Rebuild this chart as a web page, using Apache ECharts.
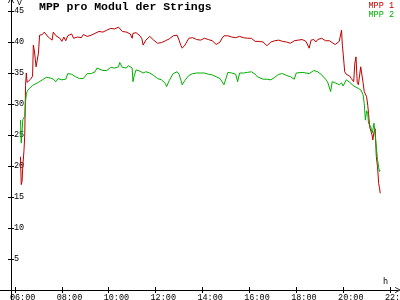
<!DOCTYPE html>
<html>
<head>
<meta charset="utf-8">
<script src="https://cdn.jsdelivr.net/npm/echarts@6/dist/echarts.min.js"></script>
<style>html,body{margin:0;padding:0;background:#fff}#c{width:400px;height:300px}</style>
</head>
<body>
<div id="c"></div>
<script>
const times = ["06:14","06:16","06:18","06:20","06:23","06:25","06:27","06:29","06:31","06:35","06:40","06:45","06:47","06:50","06:54","06:57","07:00","07:03","07:10","07:15","07:20","07:25","07:30","07:35","07:38","07:45","07:50","07:55","08:00","08:05","08:10","08:15","08:20","08:25","08:30","08:35","08:40","08:45","08:50","08:55","09:00","09:05","09:15","09:25","09:30","09:35","09:45","09:55","10:05","10:10","10:15","10:25","10:28","10:35","10:40","10:45","10:50","10:55","11:00","11:02","11:05","11:10","11:15","11:20","11:25","11:28","11:35","11:45","11:55","12:05","12:15","12:20","12:25","12:28","12:35","12:45","12:55","13:00","13:05","13:08","13:15","13:25","13:35","13:45","13:55","14:05","14:15","14:25","14:35","14:40","14:45","14:50","14:55","15:00","15:05","15:15","15:25","15:30","15:35","15:45","15:55","16:05","16:15","16:20","16:25","16:35","16:45","16:55","17:05","17:15","17:25","17:35","17:45","17:55","18:00","18:05","18:15","18:25","18:30","18:33","18:38","18:45","18:50","18:55","19:05","19:15","19:20","19:25","19:28","19:32","19:40","19:45","19:50","19:54","19:56","19:58","20:00","20:04","20:08","20:12","20:17","20:21","20:25","20:27","20:30","20:33","20:36","20:39","20:42","20:45","20:48","20:51","20:54","20:57","21:00","21:03","21:05","21:08","21:11","21:14","21:16","21:19","21:22","21:25","21:28","21:31","21:33","21:35"];

const mpp1 = [21.5,17.0,17.5,19.9,22.5,25.0,33.0,35.0,33.5,33.8,34.0,34.5,39.5,38.4,36.0,35.8,38.2,41.1,41.2,41.6,41.6,40.8,41.0,40.3,41.6,41.0,41.1,40.6,40.1,40.8,40.2,41.0,41.1,41.3,40.6,40.3,40.8,40.9,40.7,41.2,41.0,40.9,41.1,41.4,41.6,41.7,41.6,41.9,42.2,42.0,42.1,42.4,42.3,41.7,41.6,41.6,41.4,41.3,40.6,41.4,41.5,41.5,41.4,41.0,40.5,39.5,40.3,40.9,40.3,39.8,39.9,39.8,40.2,40.3,40.5,41.0,41.1,40.3,39.4,39.0,39.5,40.6,40.7,40.4,40.3,40.6,40.4,40.2,39.6,39.5,40.0,40.6,41.0,41.1,41.0,40.8,40.7,40.9,40.9,40.7,40.6,40.6,40.1,39.8,40.1,40.0,39.4,40.0,40.2,40.3,40.1,40.0,39.8,40.2,40.3,40.3,40.4,40.1,40.3,39.0,40.3,40.4,40.0,40.4,40.6,40.2,40.3,40.2,40.0,39.9,39.6,39.8,40.1,40.1,41.9,39.5,38.2,35.2,34.8,34.7,34.5,34.1,34.0,33.6,36.6,37.6,33.5,33.1,33.4,36.0,35.8,33.5,32.0,31.8,31.2,29.8,28.5,26.3,26.0,25.0,24.2,25.5,26.0,21.5,19.9,17.2,16.5,15.6];

const mpp2 = [27.4,23.7,25.5,27.5,27.5,28.0,30.4,31.5,32.0,32.4,32.7,33.0,33.0,33.2,33.3,33.4,33.5,33.8,33.9,34.0,34.3,34.5,34.2,34.0,34.0,33.6,34.1,34.0,33.9,34.2,34.0,34.9,34.7,34.8,34.6,34.4,34.3,34.1,34.0,34.1,33.9,34.9,34.9,35.2,35.8,35.5,35.4,35.4,35.9,36.1,35.8,36.0,36.7,35.9,35.6,35.8,36.2,36.3,35.8,33.6,34.5,35.5,35.2,35.3,35.1,35.0,35.2,35.0,34.6,34.1,33.9,33.9,33.3,32.8,33.8,34.9,35.2,34.8,33.8,33.1,33.8,34.6,34.9,35.0,35.0,35.0,34.8,34.7,34.4,34.2,34.1,33.9,33.1,33.4,35.1,35.0,34.8,33.6,35.0,35.0,35.1,35.2,34.8,34.4,34.1,34.0,34.0,33.9,34.3,34.8,34.9,34.6,34.4,34.0,35.0,35.2,35.1,35.0,34.7,34.9,35.0,35.4,35.5,35.2,34.7,34.0,33.6,33.3,32.0,33.6,33.4,33.1,33.1,33.2,33.4,33.2,32.9,32.8,33.9,33.6,33.5,33.3,33.0,32.9,32.8,32.7,32.6,32.5,32.4,32.3,32.0,31.5,30.1,27.4,28.9,28.5,26.9,27.2,26.3,25.3,25.8,26.9,25.0,23.1,21.0,19.8,19.1,19.3];

const xTicks = [6, 8, 10, 12, 14, 16, 18, 20, 22];
const yTicks = [5, 10, 15, 20, 25, 30, 35, 40, 45];
const seriesNames = ["MPP 1", "MPP 2"];

function toHours(t) { const p = t.split(":"); return +p[0] + (+p[1]) / 60; }
function pad(n) { return (n < 10 ? "0" : "") + n; }

const RED = "#c00000", GREEN = "#00b000";
const MONO = "'Liberation Mono', 'DejaVu Sans Mono', monospace";
const XMIN = 6 - 15 / 23.44, XMAX = 22 + 8 / 23.44;
const YMIN = 0, YMAX = 45 + 11 / 6.2;
const arrow = 'path://M0,10L5,0L10,10L8.6,10L5,2.8L1.4,10Z';

const chart = echarts.init(document.getElementById('c'), null, {renderer: 'canvas'});
const gridBox = {left: 0, right: 2, top: 0, bottom: 10, containLabel: false, outerBoundsMode: 'none'};
chart.setOption({
  animation: false,
  backgroundColor: '#fff',
  title: {
    text: 'MPP pro Modul der Strings', left: 39, top: 1, padding: 0,
    textStyle: {fontFamily: MONO, fontWeight: 'bold', fontSize: 11.5, color: '#000'}
  },
  legend: {
    orient: 'vertical', right: 6, top: 1, padding: 0, itemGap: 0,
    itemWidth: 0, itemHeight: 0, icon: 'rect', selectedMode: false,
    textStyle: {fontFamily: MONO, fontSize: 8.5},
    data: [
      {name: seriesNames[0], textStyle: {color: RED}},
      {name: seriesNames[1], textStyle: {color: GREEN}}
    ]
  },
  graphic: [{
    type: 'line', silent: true, z: 10,
    shape: {x1: 11.5, y1: 290, x2: 11.5, y2: 300},
    style: {stroke: '#000', lineWidth: 1}
  }],
  grid: [Object.assign({}, gridBox), Object.assign({}, gridBox)],
  xAxis: [{
    type: 'value', gridIndex: 0, min: XMIN, max: XMAX,
    name: 'h', nameLocation: 'end', nameGap: -15,
    nameTextStyle: {fontFamily: MONO, fontSize: 8.5, color: '#000', align: 'left', verticalAlign: 'bottom', padding: [0, 0, 4, 0]},
    axisLine: {show: true, onZero: false, symbol: ['none', arrow], symbolSize: [9, 6], lineStyle: {color: '#000', width: 1}},
    axisTick: {show: true, inside: false, length: 3, customValues: xTicks, lineStyle: {color: '#000'}},
    axisLabel: {show: true, margin: 3, customValues: xTicks, fontFamily: MONO, fontSize: 8.5, color: '#000',
      hideOverlap: false, formatter: v => '   ' + pad(Math.round(v)) + ':00'},
    splitLine: {show: false}
  }, {
    type: 'value', gridIndex: 1, min: XMIN, max: XMAX,
    axisLine: {show: false, onZero: false},
    axisTick: {show: true, inside: true, length: 3, customValues: xTicks, lineStyle: {color: '#000'}},
    axisLabel: {show: false}, splitLine: {show: false}
  }],
  yAxis: [{
    type: 'value', gridIndex: 0, min: YMIN, max: YMAX, offset: -11,
    name: 'V', nameLocation: 'end', nameGap: -5,
    nameTextStyle: {fontFamily: MONO, fontSize: 8, color: '#000', align: 'left', verticalAlign: 'middle', padding: [0, 0, 0, 6]},
    axisLine: {show: true, onZero: false, symbol: ['none', arrow], symbolSize: [6, 8], lineStyle: {color: '#000', width: 1}},
    axisTick: {show: true, inside: false, length: 3, customValues: yTicks, lineStyle: {color: '#000'}},
    axisLabel: {show: true, inside: true, margin: 3, customValues: yTicks, fontFamily: MONO, fontSize: 8.5, color: '#000', hideOverlap: false},
    splitLine: {show: false}
  }, {
    type: 'value', gridIndex: 1, min: YMIN, max: YMAX, offset: -11,
    axisLine: {show: false, onZero: false},
    axisTick: {show: true, inside: true, length: 3, customValues: yTicks, lineStyle: {color: '#000'}},
    axisLabel: {show: false}, splitLine: {show: false}
  }],
  series: [{
    name: seriesNames[0], type: 'line', xAxisIndex: 0, yAxisIndex: 0,
    showSymbol: false, symbol: 'none', color: RED,
    lineStyle: {width: 1, color: RED},
    data: times.map((t, i) => [toHours(t), mpp1[i]])
  }, {
    name: seriesNames[1], type: 'line', xAxisIndex: 0, yAxisIndex: 0,
    showSymbol: false, symbol: 'none', color: GREEN,
    lineStyle: {width: 1, color: GREEN},
    data: times.map((t, i) => [toHours(t), mpp2[i]])
  }]
});
</script>
</body>
</html>
